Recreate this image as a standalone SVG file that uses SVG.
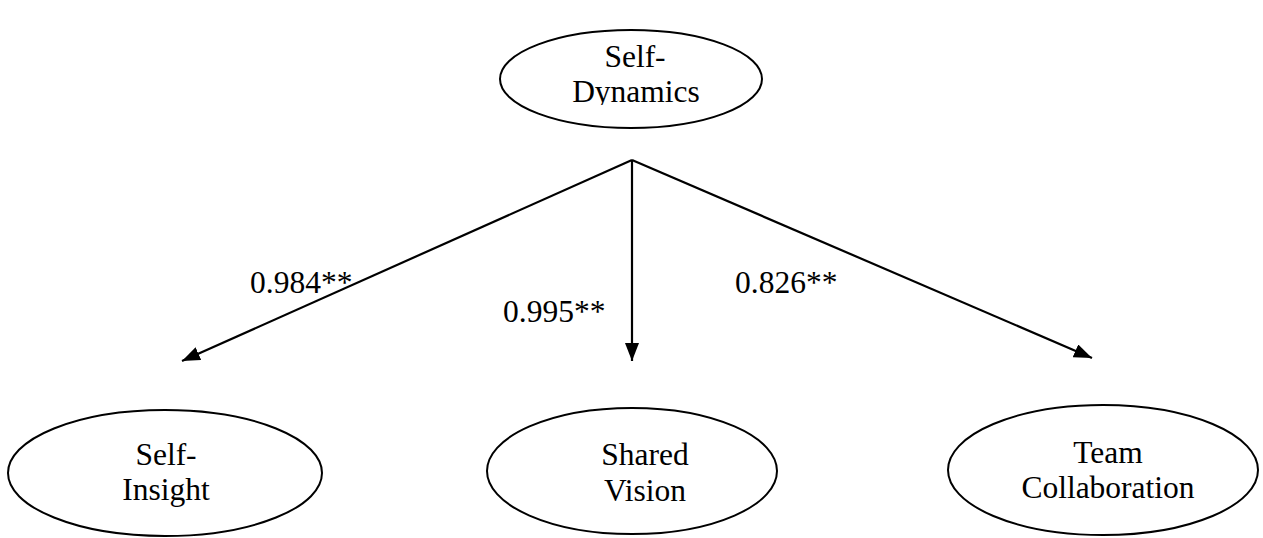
<svg xmlns="http://www.w3.org/2000/svg" width="1263" height="538" viewBox="0 0 1263 538">
<style>
.node ellipse{fill:#fff;stroke:#000;stroke-width:2}
text{font-family:"Liberation Serif","Times New Roman",serif;font-size:31.5px;fill:#000}
.c{text-anchor:middle}
.conn line{stroke:#000;stroke-width:2.2;marker-end:url(#ah)}
</style>
<defs>
<marker id="ah" viewBox="0 0 18 14" refX="18" refY="7" markerWidth="18" markerHeight="14" markerUnits="userSpaceOnUse" orient="auto">
<path d="M0,0 L18,7 L0,14 Z" fill="#000"/>
</marker>
<clipPath id="clipTop"><rect x="500" y="29" width="264" height="76"/></clipPath>
</defs>
<rect width="1263" height="538" fill="#fff"/>
<g id="self-dynamics" class="node">
<ellipse cx="631" cy="79" rx="131" ry="49"/>
<g clip-path="url(#clipTop)">
<text class="c" x="635" y="67">Self-</text>
<text class="c" x="636" y="102">Dynamics</text>
</g>
</g>
<g id="self-insight" class="node">
<ellipse cx="165" cy="473" rx="157" ry="63"/>
<text class="c" x="166" y="465">Self-</text>
<text class="c" x="166" y="500">Insight</text>
</g>
<g id="shared-vision" class="node">
<ellipse cx="632" cy="471" rx="145" ry="63"/>
<text class="c" x="645" y="465">Shared</text>
<text class="c" x="645" y="501">Vision</text>
</g>
<g id="team-collaboration" class="node">
<ellipse cx="1103" cy="470" rx="155" ry="65"/>
<text class="c" x="1108" y="463">Team</text>
<text class="c" x="1108" y="498">Collaboration</text>
</g>
<g id="connectors" class="conn">
<line x1="632" y1="160" x2="182" y2="361"/>
<line x1="632" y1="160" x2="632" y2="361"/>
<line x1="632" y1="160" x2="1092" y2="358"/>
</g>
<g id="labels">
<text x="250" y="293">0.984**</text>
<text x="503" y="322">0.995**</text>
<text x="735" y="293">0.826**</text>
</g>
</svg>
